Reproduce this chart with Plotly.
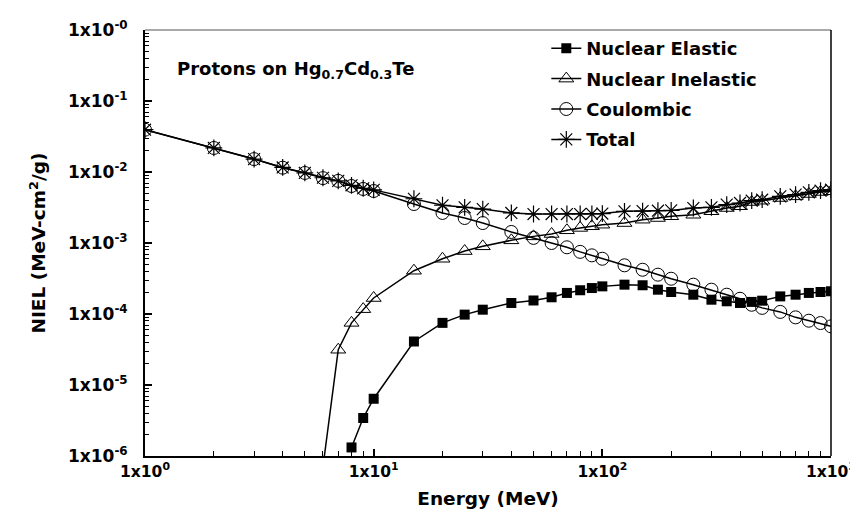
import plotly.graph_objects as go

# ---------------- data ----------------
energy_total = [1, 2, 3, 4, 5, 6, 7, 8, 9, 10, 15, 20, 25, 30, 40, 50, 60, 70, 80, 90, 100,
                125, 150, 175, 200, 250, 300, 350, 400, 450, 500, 600, 700, 800, 900, 1000]

coulombic = [3.94e-2, 2.18e-2, 1.52e-2, 1.15e-2, 9.7e-3, 8.2e-3, 7.5e-3, 6.35e-3, 5.77e-3, 5.4e-3,
             3.54e-3, 2.65e-3, 2.25e-3, 1.91e-3, 1.43e-3, 1.18e-3, 1.0e-3, 8.7e-4, 7.5e-4, 6.7e-4, 6.0e-4,
             4.85e-4, 4.2e-4, 3.58e-4, 3.14e-4, 2.59e-4, 2.2e-4, 1.87e-4, 1.64e-4, 1.35e-4, 1.22e-4,
             1.07e-4, 8.97e-5, 8.05e-5, 7.46e-5, 6.7e-5]

total = [3.94e-2, 2.18e-2, 1.52e-2, 1.16e-2, 9.7e-3, 8.3e-3, 7.5e-3, 6.5e-3, 5.9e-3, 5.6e-3,
         4.2e-3, 3.4e-3, 3.18e-3, 3.0e-3, 2.65e-3, 2.56e-3, 2.56e-3, 2.56e-3, 2.56e-3, 2.58e-3, 2.6e-3,
         2.79e-3, 2.82e-3, 2.85e-3, 2.88e-3, 3.11e-3, 3.18e-3, 3.47e-3, 3.66e-3, 3.94e-3, 4.07e-3,
         4.54e-3, 4.8e-3, 5.18e-3, 5.46e-3, 5.63e-3]

energy_inelastic = [6, 7, 8, 9, 10, 15, 20, 25, 30, 40, 50, 60, 70, 80, 90, 100,
                    125, 150, 175, 200, 250, 300, 350, 400, 450, 500, 600, 700, 800, 900, 1000]
inelastic = [7e-7, 3.14e-5, 7.5e-5, 1.17e-4, 1.68e-4, 4.07e-4, 6.0e-4, 7.7e-4, 8.98e-4, 1.09e-3,
             1.24e-3, 1.34e-3, 1.51e-3, 1.63e-3, 1.72e-3, 1.81e-3,
             1.91e-3, 2.13e-3, 2.25e-3, 2.38e-3, 2.5e-3, 2.8e-3, 3.11e-3, 3.29e-3, 3.78e-3, 3.94e-3,
             4.3e-3, 4.54e-3, 4.9e-3, 5.23e-3, 5.35e-3]

energy_elastic = [8, 9, 10, 15, 20, 25, 30, 40, 50, 60, 70, 80, 90, 100,
                  125, 150, 175, 200, 250, 300, 350, 400, 450, 500, 600, 700, 800, 900, 1000]
elastic = [1.32e-6, 3.43e-6, 6.4e-6, 4.1e-5, 7.5e-5, 9.8e-5, 1.15e-4, 1.43e-4, 1.55e-4, 1.72e-4,
           1.98e-4, 2.16e-4, 2.32e-4, 2.45e-4,
           2.59e-4, 2.54e-4, 2.2e-4, 2.04e-4, 1.87e-4, 1.59e-4, 1.51e-4, 1.43e-4, 1.48e-4, 1.54e-4,
           1.77e-4, 1.87e-4, 1.98e-4, 2.04e-4, 2.09e-4]

y_tickvals = [1e-6, 1e-5, 1e-4, 1e-3, 1e-2, 1e-1, 1e0]
y_ticktext = ["1x10<sup>-6</sup>", "1x10<sup>-5</sup>", "1x10<sup>-4</sup>", "1x10<sup>-3</sup>",
              "1x10<sup>-2</sup>", "1x10<sup>-1</sup>", "1x10<sup>-0</sup>"]
x_tickvals = [1, 10, 100, 1000]
x_ticktext = ["1x10<sup>0</sup>", "1x10<sup>1</sup>", "1x10<sup>2</sup>", "1x10<sup>3</sup>"]

# minor tick positions (2..9 within each decade)
x_minor = [m * 10 ** d for d in range(0, 3) for m in range(2, 10)]
y_minor = [m * 10.0 ** d for d in range(-6, 0) for m in range(2, 10)]

# ---------------- figure ----------------
FONT = "DejaVu Sans, Verdana, sans-serif"
line = dict(color="black", width=1.5)

fig = go.Figure()
fig.add_trace(go.Scatter(x=energy_elastic, y=elastic, name="<b>Nuclear Elastic</b>", mode="lines+markers",
                         legendgroup="a", line=line, marker=dict(symbol="square", size=10, color="black")))
fig.add_trace(go.Scatter(x=energy_inelastic, y=inelastic, name="<b>Nuclear Inelastic</b>", mode="lines+markers",
                         legendgroup="b", line=line,
                         marker=dict(symbol="triangle-up-open", size=13, color="black",
                                     line=dict(width=1, color="black"))))
fig.add_trace(go.Scatter(x=energy_total, y=coulombic, name="<b>Coulombic</b>", mode="lines+markers",
                         legendgroup="c", line=line,
                         marker=dict(symbol="circle-open", size=13, color="black",
                                     line=dict(width=1, color="black"))))
fig.add_trace(go.Scatter(x=energy_total, y=total, name="<b>Total</b>", mode="lines+markers",
                         legendgroup="d", line=line,
                         marker=dict(symbol="asterisk-open", size=14, color="black",
                                     line=dict(width=1.2, color="black"))))

fig.update_layout(
    width=858, height=518,
    margin=dict(l=137, r=35, t=22, b=70),
    paper_bgcolor="white", plot_bgcolor="white",
    font=dict(family=FONT, color="black"),
    showlegend=True,
    legend=dict(x=0.585, y=1.0, xanchor="left", yanchor="top",
                font=dict(size=18, family=FONT, color="black"),
                bgcolor="rgba(0,0,0,0)", tracegroupgap=4, itemwidth=30),
    xaxis=dict(type="log", range=[0, 3], tickvals=x_tickvals,
               ticktext=["<b>" + t + "</b>" for t in x_ticktext],
               ticks="inside", ticklen=7, tickwidth=1.5, tickcolor="black",
               minor=dict(tickvals=x_minor, ticks="inside", ticklen=5, tickwidth=1.2,
                          tickcolor="black", showgrid=False),
               showline=True, linecolor="black", linewidth=2, mirror=False, showgrid=False, zeroline=False,
               tickfont=dict(size=15.5, family=FONT, color="black"),
               automargin=False,
               title=dict(text="<b>Energy (MeV)</b>", font=dict(size=18.5, family=FONT), standoff=12)),
    yaxis=dict(type="log", range=[-6, 0], tickvals=y_tickvals,
               ticktext=["<b>" + t + "</b>" for t in y_ticktext],
               ticks="inside", ticklen=7, tickwidth=1.5, tickcolor="black",
               minor=dict(tickvals=y_minor, ticks="inside", ticklen=4, tickwidth=1,
                          tickcolor="black", showgrid=False),
               showline=True, linecolor="black", linewidth=2, mirror=False, showgrid=False, zeroline=False,
               tickfont=dict(size=17, family=FONT, color="black"),
               ticklabelstandoff=12, automargin=False,
               title=dict(text="<b>NIEL (MeV-cm<sup>2</sup>/g)</b>", font=dict(size=18.5, family=FONT),
                          standoff=17)),
    annotations=[dict(text="<b>Protons on Hg<sub>0.7</sub>Cd<sub>0.3</sub>Te</b>",
                      x=0.044, y=0.905, xref="paper", yref="paper", xanchor="left", yanchor="middle",
                      showarrow=False, font=dict(size=18, family=FONT, color="black"))],
    shapes=[dict(type="line", xref="paper", yref="paper", x0=0, x1=1, y0=1, y1=1,
                 line=dict(color="#555555", width=1.2)),
            dict(type="line", xref="paper", yref="paper", x0=1, x1=1, y0=0, y1=1,
                 line=dict(color="black", width=1.5))],
)

fig.write_html("out.html")
